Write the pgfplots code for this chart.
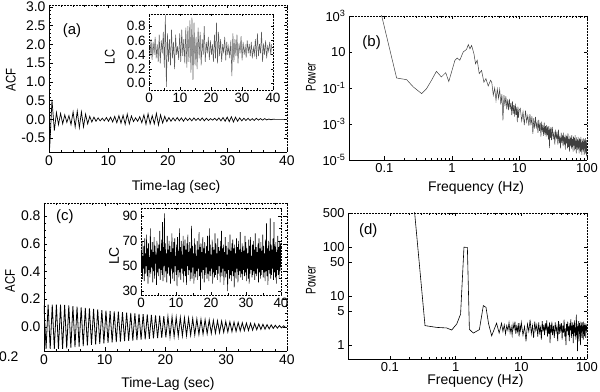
\documentclass[border=0pt]{standalone}
\usepackage{fontspec}
\setmainfont{Liberation Sans}
\usepackage{pgfplots}
\pgfplotsset{compat=1.18}

\pgfplotsset{
  panel/.style={
    scale only axis, anchor=south west,
    tick align=inside,
    major tick length=3.5bp, minor tick length=2bp,
    every tick/.style={black, line width=0.5pt},
    axis line style={draw=none},
    tick label style={font=\fontsize{14}{15}\selectfont},
    label style={font=\fontsize{14}{15}\selectfont},
    xlabel style={anchor=center}, ylabel style={anchor=center},
    /pgf/number format/assume math mode=true,
    after end axis/.code={
      \draw[line width=0.7pt] (rel axis cs:0,1) |- (rel axis cs:1,0);
      \draw[line width=0.5pt, densely dotted] (rel axis cs:0,1) -| (rel axis cs:1,0);
    },
  },
  spec/.style={
    tick label style={font=\fontsize{13}{14}\selectfont},
  },
  inset/.style={
    axis background/.style={fill=white},
    tick label style={font=\fontsize{13.5}{14}\selectfont},
    label style={font=\fontsize{14}{15}\selectfont},
    major tick length=2.5bp, minor tick length=1.5bp,
    after end axis/.code={
      \draw[line width=0.5pt, densely dotted] (rel axis cs:0,0) rectangle (rel axis cs:1,1);
    },
  },
  onedec/.style={
    yticklabel style={/pgf/number format/fixed, /pgf/number format/fixed zerofill,
      /pgf/number format/precision=1},
  },
}

\begin{document}
\begin{tikzpicture}
\useasboundingbox (0,0) rectangle (600bp,392bp);

% ---- (a) ACF
\begin{axis}[panel, onedec, at={(49bp,240bp)}, width=238bp, height=147bp,
  xmin=0, xmax=40, ymin=-0.87, ymax=3.05,
  xtick={0,10,...,40}, ytick={-0.5,0,...,3.0},
  minor x tick num=4, minor y tick num=4,
  xlabel={Time-lag (sec)}, ylabel={\scalebox{0.82}[1]{ACF}},
  xlabel style={at={(axis description cs:0.534,-0.238)}},
  ylabel style={at={(axis description cs:-0.160,0.49)}}]
\addplot[black, line width=0.7pt] coordinates {
(0,1.0) (0.12,-0.75) (0.5,0.52) (0.9,-0.3) (1.25,0.18) (1.6,-0.14) (1.95,0.16) (2.3,-0.12)
(2.65,0.12) (3.0,-0.08) (3.35,0.1) (3.7,-0.14) (4.05,0.2) (4.4,-0.2) (4.75,0.22) (5.1,-0.22)
(5.45,0.2) (5.8,-0.2) (6.15,0.14) (6.5,-0.12) (6.85,0.08) (7.2,-0.07) (7.55,0.06) (7.9,-0.05)
(8.25,0.04) (8.6,-0.04) (8.95,0.03) (9.3,-0.04) (9.65,0.05) (10.0,-0.05) (10.35,0.06) (10.7,-0.07)
(11.05,0.08) (11.4,-0.09) (11.75,0.1) (12.1,-0.1) (12.45,0.11) (12.8,-0.13) (13.15,0.14) (13.5,-0.12)
(13.85,0.09) (14.2,-0.06) (14.55,0.04) (14.9,-0.05) (15.25,0.07) (15.6,-0.09) (15.95,0.12) (16.3,-0.13)
(16.65,0.15) (17.0,-0.12) (17.35,0.1) (17.7,-0.12) (18.05,0.16) (18.4,-0.15) (18.75,0.12) (19.1,-0.1)
(19.45,0.08) (19.8,-0.06) (20.15,0.05) (20.5,-0.05) (20.85,0.04) (21.2,-0.04) (21.55,0.05) (21.9,-0.04)
(22.25,0.04) (22.6,-0.05) (22.95,0.04) (23.3,-0.03) (23.65,0.03) (24.0,-0.04) (24.35,0.04) (24.7,-0.03)
(25.05,0.03) (25.4,-0.03) (25.75,0.04) (26.1,-0.04) (26.45,0.03) (26.8,-0.03) (27.15,0.02) (27.5,-0.02)
(27.85,0.03) (28.2,-0.03) (28.55,0.04) (28.9,-0.04) (29.25,0.05) (29.6,-0.05) (29.95,0.06) (30.3,-0.06)
(30.65,0.07) (31.0,-0.07) (31.35,0.06) (31.7,-0.05) (32.05,0.04) (32.4,-0.04) (32.75,0.03) (33.1,-0.03)
(33.45,0.03) (33.8,-0.03) (34.15,0.02) (34.5,-0.03) (34.85,0.03) (35.2,-0.02) (35.55,0.02) (35.9,-0.02)
(36.25,0.02) (36.6,-0.015) (36.95,0.01) (37.3,-0.01) (37.65,0.005) (38.0,0) (40,0)};
\node[font=\fontsize{15}{16}\selectfont] at (rel axis cs:0.097,0.825) {(a)};
\end{axis}

% ---- (a) inset light curve
\begin{axis}[panel, inset, onedec, at={(149bp,302bp)}, width=124bp, height=76bp,
  xmin=0, xmax=40, ymin=-0.093, ymax=0.97,
  xtick={0,10,...,40}, ytick={0,0.2,...,0.8}, minor x tick num=1, minor y tick num=1,
  ylabel={\scalebox{0.8}[1]{LC}},
  ylabel style={at={(axis description cs:-0.315,0.434)}}]
\addplot[black!65, line width=0.5pt] table[row sep=\\, header=false, x expr=\coordindex*0.33, y index=0] {
0.50\\0.38\\0.62\\0.33\\0.58\\0.40\\0.65\\0.35\\0.55\\0.30\\
0.68\\0.28\\0.60\\0.42\\0.72\\0.22\\0.95\\-0.05\\0.70\\0.30\\
0.62\\0.25\\0.75\\0.35\\0.58\\0.20\\0.68\\0.40\\0.52\\0.33\\
0.70\\0.30\\0.75\\0.38\\0.62\\0.28\\0.78\\0.22\\0.80\\0.30\\
0.88\\0.15\\0.92\\0.05\\0.85\\0.25\\0.65\\0.20\\0.78\\0.35\\
0.72\\0.25\\0.62\\0.40\\0.80\\0.30\\0.58\\0.42\\0.65\\0.33\\
0.60\\0.40\\0.55\\0.30\\0.68\\0.35\\0.85\\0.28\\0.72\\0.38\\
0.62\\0.30\\0.55\\0.42\\0.65\\0.32\\0.58\\0.40\\0.52\\0.35\\
0.60\\0.10\\0.70\\0.30\\0.62\\0.38\\0.68\\0.28\\0.56\\0.42\\
0.66\\0.32\\0.58\\0.40\\0.52\\0.36\\0.60\\0.42\\0.55\\0.38\\
0.58\\0.35\\0.50\\0.40\\0.62\\0.34\\0.70\\0.38\\0.55\\0.42\\
0.72\\0.30\\0.56\\0.40\\0.60\\0.35\\0.52\\0.45\\0.58\\0.40\\
0.55\\};
\end{axis}

% ---- (b) power spectrum
\begin{axis}[panel, spec, xmode=log, ymode=log, at={(349bp,232bp)}, width=238bp, height=144bp,
  xmin=0.03, xmax=100, ymin=1e-5, ymax=1e3,
  xtick={0.1,1,10,100}, xticklabels={0.1,1,10,100},
  ytick={1e-5,1e-3,1e-1,1e1,1e3},
  yticklabels={10\textsuperscript{-5},10\textsuperscript{-3},10\textsuperscript{-1},10,10\textsuperscript{3}},
  xlabel={Frequency (Hz)}, ylabel={\scalebox{0.72}[1]{Power}},
  xlabel style={at={(axis description cs:0.534,-0.194)}},
  ylabel style={at={(axis description cs:-0.160,0.576)}}]
\addplot[black!75, line width=0.5pt] coordinates {
(0.09,1300)(0.152,0.36)(0.214,0.29)(0.268,0.115)(0.356,0.049)(0.42,0.09)(0.5,0.27)(0.59,0.84)
(0.70,0.41)(0.81,0.71)(0.90,0.23)(1.11,3.5)(1.2,4.6)(1.31,3.5)(1.47,10)(1.65,14)(1.75,26)(1.85,15)
(1.96,23)(2.12,8)(2.24,2.2)(2.37,3.5)(2.54,0.63)(2.75,0.95)(2.98,0.21)(3.19,0.33)(3.45,0.13)(3.74,0.27)
(3.9,0.2)(4.1,0.04)(4.3,0.1)(4.5,0.02)(4.7,0.089)(4.9,0.027)(5.1,0.083)(5.3,0.012)(5.5,0.046)
(5.7,0.0016)(5.9,0.04)(6.1,0.01)(6.3,0.035)(6.5,0.0065)(6.7,0.023)(6.9,0.006)(7.1,0.025)(7.3,0.0065)
(7.5,0.015)(7.7,0.0031)(7.9,0.018)(8.1,0.0038)(8.3,0.011)(8.5,0.0026)(8.7,0.0135)(8.9,0.0032)
(9.1,0.0083)(9.3,0.00126)(9.5,0.0093)(9.7,0.0022)(9.9,0.0058)
(10.3,7.4e-3)(10.8,1.5e-3)(11.3,4.8e-3)(11.8,8.7e-4)(12.3,5.6e-3)(12.8,1.3e-3)(13.3,3.0e-3)(13.8,7.8e-4)
(14.3,3.5e-3)(14.8,8.3e-4)(15.3,2.7e-3)(15.8,2.8e-4)(16.3,2.1e-3)(16.8,5.5e-4)(17.3,2.5e-3)(17.8,6.6e-4)
(18.3,1.2e-3)(18.8,3.2e-4)(19.3,1.7e-3)(19.8,4.1e-4)(20.3,1.2e-3)(20.8,2.0e-4)(21.3,1.35e-3)(21.8,3.5e-4)
(22.3,8.5e-4)(22.8,2.2e-4)(23.3,1.2e-3)(23.8,2.6e-4)(24.3,7.6e-4)(24.8,2.0e-4)(25.3,8.7e-4)(25.8,2.4e-4)
(26.3,7.2e-4)(26.8,1.4e-4)(27.3,7.6e-4)(27.8,4.6e-5)(28.3,5.6e-4)(28.8,1.7e-4)(29.3,6.6e-4)(29.8,1.26e-4)
(30.7,6.8e-4)(31.6,1.4e-4)(32.5,3.8e-4)(33.4,7.1e-5)(34.3,4.8e-4)(35.2,1.45e-4)(36.1,3.8e-4)(37.0,7.2e-5)
(37.9,4.9e-4)(38.8,8.3e-5)(39.7,2.2e-4)(40.6,4.4e-5)(41.5,3.3e-4)(42.4,9.1e-5)(43.3,2.5e-4)(44.2,6.0e-5)
(45.1,3.3e-4)(46.0,7.2e-5)(46.9,1.95e-4)(47.8,3.8e-5)(48.7,2.6e-4)(49.6,8.1e-5)(50.5,2.2e-4)(51.4,4.4e-5)
(52.3,3.0e-4)(53.2,5.2e-5)(54.1,1.5e-4)(55.0,2.9e-5)(55.9,2.2e-4)(56.8,6.3e-5)(57.7,1.7e-4)(58.6,4.3e-5)
(59.5,2.4e-4)(60.4,5.2e-5)(61.3,1.45e-4)(62.2,2.9e-5)(63.1,2.0e-4)(64.0,6.2e-5)(64.9,1.7e-4)(65.8,3.4e-5)
(66.7,2.4e-4)(67.6,4.2e-5)(68.5,1.15e-4)(69.4,2.3e-5)(70.3,1.8e-4)(71.2,5.0e-5)(72.1,1.4e-4)(73.0,3.5e-5)
(73.9,1.9e-4)(74.8,4.3e-5)(75.7,1.2e-4)(76.6,2.3e-5)(77.5,1.6e-4)(78.4,5.1e-5)(79.3,1.4e-4)(80.2,2.8e-5)
(81.1,1.95e-4)(82.0,3.5e-5)(82.9,9.5e-5)(83.8,1.9e-5)(84.7,1.5e-4)(85.6,4.2e-5)(86.5,1.15e-4)(87.4,2.9e-5)
(88.3,1.6e-4)(89.2,3.5e-5)(90.1,9.8e-5)(91.0,1.95e-5)(91.9,1.4e-4)(92.8,4.3e-5)(93.7,1.2e-4)(94.6,2.3e-5)
(95.5,1.65e-4)(96.4,3.0e-5)(97.3,8.1e-5)(98.2,1.6e-5)(99.1,1.26e-4)};
\node[font=\fontsize{15}{16}\selectfont] at (rel axis cs:0.095,0.816) {(b)};
\end{axis}

% ---- (c) ACF
\begin{axis}[panel, onedec, at={(44bp,41bp)}, width=243bp, height=148bp,
  xmin=0, xmax=40, ymin=-0.175, ymax=0.895,
  xtick={0,10,...,40}, ytick={0,0.2,...,0.8},
  minor x tick num=4, minor y tick num=3,
  extra y ticks={-0.175}, extra y tick labels={0.2},
  extra y tick style={yticklabel style={xshift=-22bp, yshift=-6bp}},
  xlabel={Time-Lag (sec)}, ylabel={\scalebox{0.82}[1]{ACF}},
  xlabel style={at={(axis description cs:0.51,-0.223)}},
  ylabel style={at={(axis description cs:-0.140,0.473)}}]
\addplot[black, line width=0.8pt] coordinates {
(0.00,0.155)(0.34,-0.16)(0.68,0.16)(1.02,-0.16)(1.36,0.16)(1.70,-0.16)(2.04,0.16)(2.38,-0.16)
(2.72,0.16)(3.06,-0.16)(3.40,0.158)(3.74,-0.156)(4.08,0.154)(4.42,-0.151)(4.76,0.149)(5.10,-0.147)
(5.44,0.145)(5.78,-0.143)(6.12,0.141)(6.46,-0.139)(6.80,0.137)(7.14,-0.135)(7.48,0.133)(7.82,-0.131)
(8.16,0.129)(8.50,-0.127)(8.84,0.125)(9.18,-0.123)(9.52,0.121)(9.86,-0.119)(10.20,0.117)(10.54,-0.116)
(10.88,0.114)(11.22,-0.113)(11.56,0.111)(11.90,-0.110)(12.24,0.109)(12.58,-0.107)(12.92,0.106)(13.26,-0.104)
(13.60,0.103)(13.94,-0.101)(14.28,0.100)(14.62,-0.099)(14.96,0.097)(15.30,-0.096)(15.64,0.094)(15.98,-0.093)
(16.32,0.091)(16.66,-0.090)(17.00,0.089)(17.34,-0.087)(17.68,0.086)(18.02,-0.084)(18.36,0.083)(18.70,-0.081)
(19.04,0.080)(19.38,-0.079)(19.72,0.077)(20.06,-0.076)(20.40,0.074)(20.74,-0.073)(21.08,0.072)(21.42,-0.071)
(21.76,0.069)(22.10,-0.068)(22.44,0.067)(22.78,-0.065)(23.12,0.064)(23.46,-0.063)(23.80,0.062)(24.14,-0.060)
(24.48,0.059)(24.82,-0.058)(25.16,0.056)(25.50,-0.055)(25.84,0.054)(26.18,-0.053)(26.52,0.051)(26.86,-0.050)
(27.20,0.049)(27.54,-0.047)(27.88,0.046)(28.22,-0.045)(28.56,0.043)(28.90,-0.042)(29.24,0.041)(29.58,-0.040)
(29.92,0.038)(30.26,-0.037)(30.60,0.036)(30.94,-0.035)(31.28,0.034)(31.62,-0.033)(31.96,0.032)(32.30,-0.030)
(32.64,0.029)(32.98,-0.028)(33.32,0.027)(33.66,-0.026)(34.00,0.025)(34.34,-0.024)(34.68,0.023)(35.02,-0.021)
(35.36,0.020)(35.70,-0.019)(36.04,0.018)(36.38,-0.017)(36.72,0.016)(37.06,-0.015)(37.40,0.014)(37.74,-0.012)
(38.08,0.011)(38.42,-0.010)(38.76,0.009)(39.10,-0.008)(39.44,0.007)(39.78,-0.006)};
\node[font=\fontsize{15}{16}\selectfont] at (rel axis cs:0.086,0.907) {(c)};
\end{axis}

% ---- (c) inset light curve
\begin{axis}[panel, inset, at={(141bp,97bp)}, width=140bp, height=87bp,
  xmin=0, xmax=40, ymin=26.8, ymax=96.4,
  xtick={0,10,...,40}, ytick={30,50,70,90}, minor x tick num=1, minor y tick num=1,
  ylabel={LC},
  ylabel style={at={(axis description cs:-0.193,0.448)}}]
\addplot[black, line width=0.6pt] table[row sep=\\, header=false, x expr=\coordindex*0.1338, y index=0] {
62\\45\\70\\40\\58\\48\\66\\38\\72\\44\\60\\50\\75\\42\\64\\36\\68\\47\\57\\41\\
80\\44\\63\\49\\69\\37\\61\\46\\73\\40\\66\\52\\59\\35\\70\\45\\64\\42\\67\\48\\
78\\39\\62\\47\\71\\43\\85\\38\\65\\50\\92\\41\\68\\46\\60\\37\\74\\44\\63\\49\\
70\\42\\66\\36\\61\\48\\76\\40\\64\\45\\69\\38\\72\\50\\58\\43\\67\\34\\73\\47\\
62\\41\\80\\45\\65\\39\\70\\48\\59\\44\\74\\37\\66\\46\\71\\42\\63\\35\\68\\50\\
75\\43\\61\\47\\69\\38\\64\\45\\82\\40\\66\\49\\60\\36\\72\\44\\67\\41\\58\\46\\
70\\39\\63\\48\\77\\42\\65\\31\\68\\45\\61\\40\\73\\47\\64\\37\\69\\43\\60\\49\\
66\\40\\74\\44\\62\\38\\80\\46\\67\\42\\59\\48\\71\\36\\65\\45\\63\\41\\76\\43\\
68\\47\\60\\39\\72\\44\\65\\50\\62\\37\\70\\45\\78\\42\\64\\48\\67\\35\\61\\46\\
73\\41\\66\\44\\59\\30\\69\\47\\63\\40\\75\\43\\62\\38\\68\\46\\71\\42\\64\\33\\
67\\45\\60\\40\\72\\48\\65\\37\\70\\43\\63\\46\\77\\41\\61\\44\\68\\39\\66\\47\\
62\\42\\74\\45\\69\\38\\64\\48\\60\\40\\71\\36\\66\\44\\73\\47\\58\\41\\67\\43\\
70\\46\\63\\39\\76\\44\\65\\42\\61\\48\\68\\37\\72\\45\\64\\40\\69\\43\\62\\47\\
75\\41\\66\\45\\60\\38\\71\\46\\84\\42\\64\\35\\70\\47\\62\\44\\88\\40\\67\\43\\
63\\48\\72\\39\\85\\45\\66\\41\\69\\36\\61\\47\\74\\43\\65\\40\\70\\46\\68\\50\\};
\end{axis}

% ---- (d) power spectrum
\begin{axis}[panel, spec, xmode=log, ymode=log, at={(348bp,33bp)}, width=239bp, height=146bp,
  xmin=0.023, xmax=100, ymin=0.52, ymax=500,
  xtick={0.1,1,10,100}, xticklabels={0.1,1,10,100},
  ytick={1,5,10,50,100,500}, yticklabels={1,5,10,50,100,500},
  xlabel={Frequency (Hz)}, ylabel={\scalebox{0.72}[1]{Power}},
  xlabel style={at={(axis description cs:0.533,-0.151)}},
  ylabel style={at={(axis description cs:-0.155,0.54)}}]
\addplot[black, line width=0.6pt] coordinates {
(0.235,600)(0.342,2.5)(0.515,2.3)(0.73,2.24)(0.87,2.03)(1.04,2.7)(1.19,4.3)(1.34,100)(1.51,99)
(1.62,2.1)(1.86,1.76)(2.3,2.07)(2.64,6.4)(2.9,5.9)(3.18,2.7)(3.54,1.55)(4.2,2.8)(4.6,1.76)(5.0,2.8)
(5.25,1.9)(5.5,2.6)(5.75,1.7)(6.0,2.5)(6.25,2.0)(6.5,2.9)(6.75,1.8)(7.0,2.4)(7.25,1.6)(7.5,2.7)
(7.75,2.1)(8.0,3.0)(8.25,1.7)(8.5,2.4)(8.75,1.9)(9.0,2.8)(9.25,1.5)(9.5,2.5)(9.75,2.0)
(10.0,2.9)(10.6,1.6)(11.2,2.4)(11.8,1.2)(12.4,2.7)(13.0,1.9)(13.6,3.3)(14.2,1.7)(14.8,2.5)(15.4,1.4)
(16.0,3.0)(16.6,2.0)(17.2,2.6)(17.8,1.5)(18.4,2.9)(19.0,1.8)(19.6,2.3)(20.2,1.3)(20.8,3.1)(21.4,1.9)
(22.0,2.6)(22.6,1.6)(23.2,2.8)(23.8,2.0)(24.4,3.2)(25.0,1.5)(25.6,2.4)(26.2,1.7)(26.8,2.9)(27.4,1.1)
(28.0,2.6)(28.6,1.8)(29.2,3.0)(29.8,1.6)
(30.8,2.5)(31.8,1.4)(32.8,2.9)(33.8,1.9)(34.8,2.4)(35.8,1.2)(36.8,3.1)(37.8,1.7)(38.8,2.6)(39.8,2.0)
(40.8,2.8)(41.8,1.3)(42.8,2.5)(43.8,1.8)(44.8,3.3)(45.8,1.5)(46.8,2.2)(47.8,1.0)(48.8,2.7)(49.8,1.9)
(50.8,3.0)(51.8,1.6)(52.8,2.4)(53.8,1.2)(54.8,2.8)(55.8,2.0)(56.8,3.4)(57.8,1.4)(58.8,2.5)(59.8,1.7)
(60.8,2.9)(61.8,1.1)(62.8,2.6)(63.8,1.8)(64.8,3.2)(65.8,1.5)(66.8,2.3)(67.8,1.3)(68.8,4.2)(69.8,1.6)
(70.8,2.7)(71.8,0.75)(72.8,2.4)(73.8,1.9)(74.8,3.1)(75.8,1.2)(76.8,2.8)(77.8,1.7)(78.8,2.5)(79.8,1.0)
(80.8,3.0)(81.8,1.8)(82.8,2.6)(83.8,1.4)(84.8,2.9)(85.8,1.9)(86.8,2.4)(87.8,1.3)(88.8,3.0)(89.8,1.7)
(90.8,2.6)(91.8,1.5)(92.8,2.8)(93.8,2.0)(94.8,2.4)(95.8,1.4)(96.8,2.7)(97.8,1.8)(98.8,2.5)(99.8,2.0)};
\node[font=\fontsize{15}{16}\selectfont] at (rel axis cs:0.085,0.877) {(d)};
\end{axis}
\end{tikzpicture}
\end{document}
